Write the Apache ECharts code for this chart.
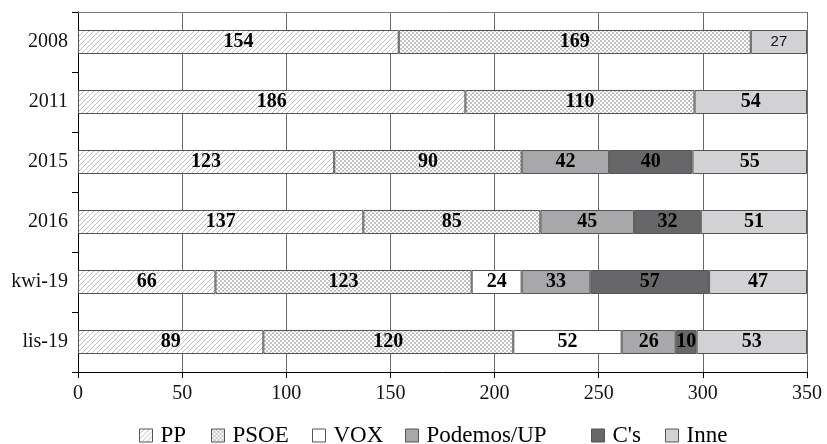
<!DOCTYPE html>
<html>
<head>
<meta charset="utf-8">
<script src="https://cdn.jsdelivr.net/npm/echarts@6/dist/echarts.min.js"></script>
<style>html,body{margin:0;padding:0;background:#fff}#c{width:827px;height:444px}</style>
</head>
<body>
<div id="c"></div>
<script>
var categories = ['2008', '2011', '2015', '2016', 'kwi-19', 'lis-19'];
var seriesNames = ['PP', 'PSOE', 'VOX', 'Podemos/UP', "C's", 'Inne'];
var PP      = [154, 186, 123, 137, 66, 89];
var PSOE    = [169, 110, 90, 85, 123, 120];
var VOX     = [0, 0, 0, 0, 24, 52];
var Podemos = [0, 0, 42, 45, 33, 26];
var Cs      = [0, 0, 40, 32, 57, 10];
var Inne    = [27, 54, 55, 51, 47, 53];
var xTicks = [0, 50, 100, 150, 200, 250, 300, 350];

function hatch() {
  var c = document.createElement('canvas'); c.width = 5; c.height = 5;
  var g = c.getContext('2d');
  g.fillStyle = '#fff'; g.fillRect(0, 0, 5, 5);
  g.strokeStyle = '#b0b0b0'; g.lineWidth = 0.8;
  g.beginPath(); g.moveTo(-1, 6); g.lineTo(6, -1); g.stroke();
  g.beginPath(); g.moveTo(-1, 1); g.lineTo(1, -1); g.stroke();
  g.beginPath(); g.moveTo(4, 6); g.lineTo(6, 4); g.stroke();
  return c;
}
function checker() {
  var c = document.createElement('canvas'); c.width = 4; c.height = 4;
  var g = c.getContext('2d');
  g.fillStyle = '#fff'; g.fillRect(0, 0, 4, 4);
  g.fillStyle = '#c4c4c4';
  g.fillRect(0, 0, 2, 2); g.fillRect(2, 2, 2, 2);
  return c;
}

var values = [PP, PSOE, VOX, Podemos, Cs, Inne];
var fills = [
  {image: hatch(), repeat: 'repeat'},
  {image: checker(), repeat: 'repeat'},
  '#ffffff', '#a8a8aa', '#67676a', '#d2d2d4'
];
var FONT = "'Liberation Serif', 'Times New Roman', Times, serif";

var series = seriesNames.map(function (name, si) {
  return {
    name: name, type: 'bar', stack: 'total', barWidth: '40%',
    itemStyle: {color: fills[si], borderColor: '#555', borderWidth: 1},
    label: {
      show: true, position: 'inside', color: '#000',
      fontFamily: FONT, fontWeight: 'bold', fontSize: 20,
      formatter: function (p) { return p.value ? String(p.value) : ''; }
    },
    emphasis: {disabled: true},
    data: values[si].map(function (v, ci) {
      if (!v) return null;
      if (categories[ci] === '2008' && name === 'Inne') {
        return {value: v, label: {fontFamily: "'Liberation Sans', Arial, sans-serif", fontWeight: 'normal', fontSize: 15, color: '#111'}};
      }
      return v;
    })
  };
});

var legendLeft = [139, 211, 312, 405, 591, 665];
var legends = seriesNames.map(function (n, i) {
  return {
    data: [n], left: legendLeft[i], top: 424, itemWidth: 13, itemHeight: 13, padding: 0,
    icon: 'rect', selectedMode: false,
    itemStyle: {borderColor: '#555', borderWidth: 1},
    textStyle: {fontFamily: FONT, fontSize: 23, color: '#000', padding: [0, 0, 0, 3]}
  };
});

var chart = echarts.init(document.getElementById('c'));
chart.setOption({
  animation: false,
  backgroundColor: '#fff',
  textStyle: {fontFamily: FONT},
  grid: {left: 78, right: 20, top: 12, bottom: 72, containLabel: false},
  legend: legends,
  xAxis: [{
    type: 'value', min: 0, max: 350, interval: 50,
    axisLine: {show: true, lineStyle: {color: '#000', width: 1}},
    axisTick: {show: true, length: 6, lineStyle: {color: '#000'}},
    axisLabel: {fontFamily: FONT, fontSize: 20, color: '#111', margin: 12,
      formatter: function (v) { return xTicks.indexOf(v) >= 0 ? String(v) : ''; }},
    splitLine: {show: true, lineStyle: {color: '#6a6a6a', width: 1}}
  }, {
    type: 'value', position: 'top', min: 0, max: 350, interval: 50,
    axisLine: {show: true, lineStyle: {color: '#777', width: 1}},
    axisTick: {show: false}, axisLabel: {show: false}, splitLine: {show: false}
  }],
  yAxis: {
    type: 'category', data: categories, inverse: true,
    axisLine: {show: true, lineStyle: {color: '#000', width: 1}},
    axisTick: {show: true, length: 6, lineStyle: {color: '#000'}},
    axisLabel: {fontFamily: FONT, fontSize: 20, color: '#111', margin: 10}
  },
  series: series
});
</script>
</body>
</html>
